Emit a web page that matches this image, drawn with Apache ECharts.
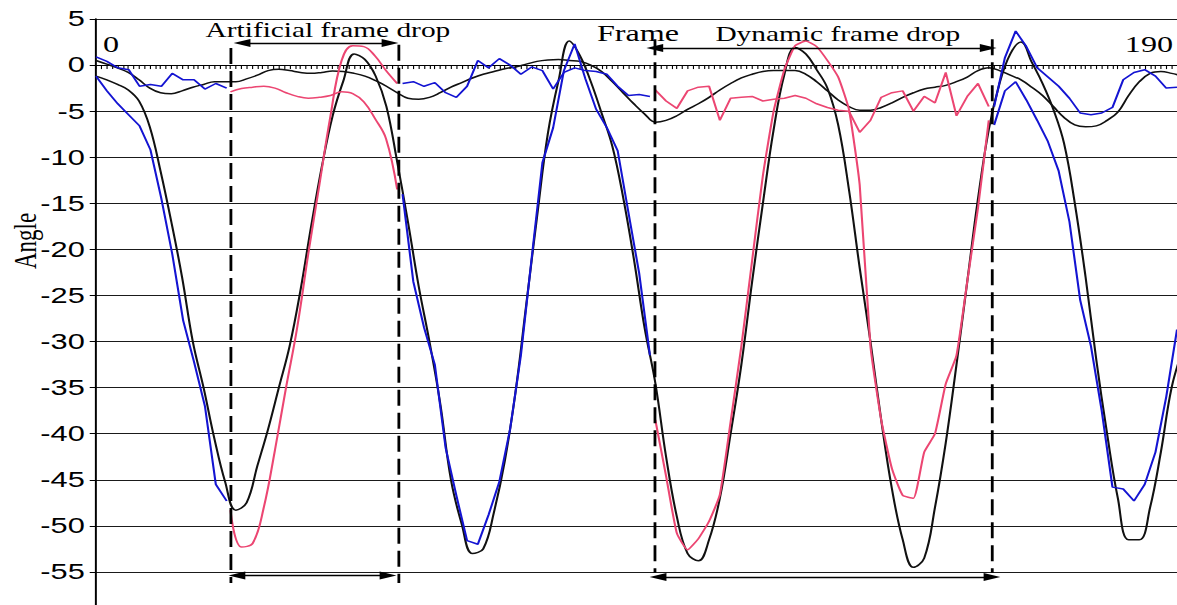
<!DOCTYPE html>
<html><head><meta charset="utf-8">
<script src="https://cdn.jsdelivr.net/npm/echarts@6/dist/echarts.min.js"></script>
<style>
html,body{margin:0;padding:0;background:#fff;overflow:hidden;}
#wrap{width:1177px;height:605px;overflow:hidden;}
#chart{width:841px;height:605px;transform:scaleX(1.39952);transform-origin:0 0;}
</style></head><body><div id="wrap"><div id="chart"></div></div>
<script>
// ---- data (angles in degrees, frames) ----
const xLabelValues = [0, 190];
const refRange = [0, 202];
const refSmall = [0.5,0.1,-0.3,-0.8,-1.6,-2.5,-3.0,-3.1,-2.8,-2.4,
 -2.1,-1.8,-1.8,-1.8,-1.5,-1.1,-0.6,-0.45,-0.6,-0.8,
 -0.9,-0.8,-0.65,-0.7,-0.9,-1.2,-1.7,-2.3,-3.0,-3.6,
 -3.7,-3.5,-3.0,-2.4,-1.9,-1.4,-1.0,-0.7,-0.4,-0.2,
 0.1,0.4,0.55,0.6,0.5,0.4,0.0,-0.7,-1.8,-3.0,
 -4.2,-5.3,-6.2,-6.0,-5.5,-4.8,-4.2,-3.5,-2.7,-2.0,
 -1.4,-1.0,-0.7,-0.6,-0.6,-0.6,-1.0,-1.8,-2.8,-3.8,
 -4.5,-4.9,-4.9,-4.6,-4.1,-3.5,-3.0,-2.6,-2.4,-2.2,
 -1.8,-1.3,-0.6,-0.3,-0.6,-1.1,-1.6,-2.4,-3.3,-4.5,
 -5.7,-6.5,-6.7,-6.6,-6.0,-5.1,-3.3,-1.8,-0.9,-0.7,
 -0.9,-1.2];
const refLarge = [-1.2,-1.6,-2.1,-2.7,-3.9,-6.7,-11.5,-17,-23,-30,
 -35,-40.5,-45.2,-48.3,-47.5,-43.5,-39.5,-35,-30.5,-24.5,
 -17.5,-11,-5.5,-1.7,1.2,0.6,-1.2,-4.5,-10.5,-17,
 -24,-30,-36.7,-45,-49.8,-53,-52.5,-48.5,-43,-35.5,
 -26,-16.5,-7.5,-1.7,2.6,1.0,-1.8,-5.2,-8.8,-14.3,
 -21,-28.5,-34.5,-42.5,-49,-53,-53.8,-51.5,-47,-40,
 -32.5,-23.5,-15,-7,-1,1.9,1.2,-0.5,-2.5,-6.5,
 -13.5,-22,-30,-38.5,-46,-51.5,-54.5,-53.5,-48,-41,
 -32.5,-23.5,-14.5,-7,-2,1.2,2.5,0.3,-2,-4.8,
 -8.5,-15,-23,-32,-40,-47,-51.5,-51.5,-48,-42,
 -35,-31];

const measuredRanges = [[0, 24.3], [57, 103], [167, 201]];
const measSmall1 = [0.9,0.4,-0.3,-0.5,-2.3,-2.1,-2.3,-0.9,-1.6,-1.6,-2.6,-2.0,-2.5];
const measLarge1 = [-1.2,-2.8,-4.2,-5.4,-6.6,-9.2,-14.5,-20.5,-27.7,-32.2,-37,-45.5,-47.3];
const measSmall2 = [-2.0,-1.8,-2.3,-1.9,-3.0,-3.5,-2.3,0.5,-0.3,0.7,0.0,-1.0,-0.2,-0.6,-2.6,-0.8,-0.3,-0.6,-0.7,-1.0,-2.3,-3.3,-3.2,-3.4];
const measLarge2 = [-14.0,-23.5,-28.5,-32.5,-41.5,-46.7,-51.6,-52.0,-48.8,-45.2,-39.5,-31.5,-21.0,-10.6,-6.8,-0.6,2.3,-1.5,-4.8,-6.8,-9.3,-16.0,-22.6,-31.5];
const measSmall3 = [-4.5,0.8,3.7,2.0,-0.3,-1.3,-2.3,-3.6,-5.2,-5.4,-5.2,-4.6,-1.6,-0.8,-0.5,-1.2,-2.5,-2.4];
const measLarge3 = [-6.5,-2.8,-1.8,-3.8,-6.0,-8.3,-11.5,-17.0,-25.5,-30.5,-37.5,-45.8,-46.0,-47.3,-45.5,-42.0,-36.0,-28.7];

const dropRanges = [[25, 56], [104, 166]];
const predSmall1 = [-2.9,-2.55,-2.4,-2.3,-2.5,-3.0,-3.4,-3.6,-3.5,-3.3,-2.9,-3.1,-4.0,-5.8,-8.0,-13.5];
const predLarge1 = [-48.3,-52.3,-51.9,-48,-41.8,-35,-28.5,-20.5,-13,-5.5,0.5,2.1,2.0,1.0,-0.6,-2.0];
const predSmall2 = [-2.7,-3.9,-4.7,-2.8,-2.4,-2.3,-6.0,-3.6,-3.5,-3.4,-3.9,-3.7,-3.6,-3.3,-3.6,-4.2,-4.6,-4.9,-5.0,-7.3,-6.0,-3.5,-3.0,-2.8,-5.0,-3.4,-4.1,-0.8,-5.5,-3.4,-2.0,-4.5];
const predLarge2 = [-38.5,-44.6,-50.8,-52.6,-51.4,-49.5,-46.6,-38.7,-30.5,-21.2,-12.0,-5.0,-0.5,2.1,2.6,2.0,0.5,-1.3,-4.8,-13.0,-30.5,-38.5,-43.8,-46.7,-47.0,-42.0,-40.0,-34.6,-31.5,-23.5,-15.5,-6.0];

// annotation positions (frame, angle)
const dropLineFrames = [24.9, 56.15, 103.94, 166.6];
const dropLineTops = [1.85, 2.2, 2.8, 2.8];
const dropLineBottoms = [-56.2, -56.2, -55.1, -55.1];
const arrowFrom = [27.15, 26.2, 103.9, 104.5];
const arrowTo = [54.67, 54.3, 165.9, 166.6];
const arrowAngle = [2.4, -55.4, 1.84, -55.55];

// ---- helpers ----
function toPoints(range, values) {
  const step = (range[1] - range[0]) / (values.length - 1);
  return values.map((v, i) => [range[0] + i * step, v]);
}
function joinSegments(ranges, segs) {
  let out = [];
  segs.forEach((s, i) => {
    if (i > 0) out.push([(ranges[i - 1][1] + ranges[i][0]) / 2, null]);
    out = out.concat(toPoints(ranges[i], s));
  });
  return out;
}

const BLACK = '#111111', BLUE = '#1414d2', PINK = '#ec4672';
const LW = 1.5;

function line(name, data, color, smooth, extra) {
  return Object.assign({
    name, type: 'line', data, showSymbol: false, symbol: 'none', smooth,
    connectNulls: false, lineStyle: { color, width: LW }, itemStyle: { color },
    animation: false, silent: true
  }, extra || {});
}

const dashedData = dropLineFrames.map((f, i) => [{ coord: [f, dropLineTops[i]] }, { coord: [f, dropLineBottoms[i]] }]);
const arrowData = arrowFrom.map((f, i) => [{ coord: [f, arrowAngle[i]] }, { coord: [arrowTo[i], arrowAngle[i]] }]);

const chart = echarts.init(document.getElementById('chart'), null, { renderer: 'svg' });
chart.setOption({
  animation: false,
  backgroundColor: '#fff',
  grid: { left: 68.6, right: 0, top: 19, bottom: -13, containLabel: false, outerBoundsMode: 'none' },
  xAxis: {
    type: 'value', position: 'top', min: 0, max: 201, interval: 1,
    axisLine: { show: true, onZero: true, lineStyle: { color: '#000', width: 1.2 } },
    axisTick: { show: true, inside: true, length: 4, lineStyle: { color: '#000', width: 0.8 } },
    axisLabel: {
      show: true, formatter: v => (xLabelValues.indexOf(v) >= 0 ? String(v) : ''),
      align: 'left', padding: [0, 0, 0, 5], margin: -37,
      fontFamily: '"Liberation Serif", serif', fontSize: 23, color: '#000'
    },
    splitLine: { show: false }
  },
  yAxis: {
    type: 'value', min: -60, max: 5, interval: 5,
    axisLine: { show: true, onZero: false, lineStyle: { color: '#000', width: 1.4 } },
    axisTick: { show: true, inside: false, length: 4.5, lineStyle: { color: '#000', width: 1 } },
    axisLabel: { formatter: v => (v < -55 ? '' : String(v)),
      fontFamily: '"Liberation Sans", Arial, sans-serif', fontSize: 22, color: '#000', margin: 8 },
    splitLine: { show: true, lineStyle: { color: '#1a1a1a', width: 1 } }
  },
  graphic: [
    { type: 'text', x: 18, y: 241, rotation: Math.PI / 2, silent: true,
      style: { text: 'Angle', font: '23px "Liberation Serif", serif', fill: '#000', textAlign: 'center', textVerticalAlign: 'middle' } },
    { type: 'text', x: 455.9, y: 33, silent: true,
      style: { text: 'Frame', font: '23px "Liberation Serif", serif', fill: '#000', textAlign: 'center', textVerticalAlign: 'middle' } },
    { type: 'text', x: 234.3, y: 30, silent: true,
      style: { text: 'Artificial frame drop', font: '21px "Liberation Serif", serif', fill: '#000', textAlign: 'center', textVerticalAlign: 'middle' } },
    { type: 'text', x: 598.6, y: 34, silent: true,
      style: { text: 'Dynamic frame drop', font: '21px "Liberation Serif", serif', fill: '#000', textAlign: 'center', textVerticalAlign: 'middle' } }
  ],
  series: [
    line('Reference small', toPoints(refRange, refSmall), BLACK, 0.4, {
      markLine: { silent: true, animation: false, symbol: ['none', 'none'], label: { show: false },
        lineStyle: { color: '#000', type: [16, 7], width: 2 }, data: dashedData }
    }),
    line('Reference large', toPoints(refRange, refLarge), BLACK, 0.4, {
      markLine: { silent: true, animation: false, symbol: ['triangle', 'triangle'], symbolSize: [8, 12],
        label: { show: false }, lineStyle: { color: '#000', type: 'solid', width: 1.3 }, itemStyle: { color: '#000' },
        data: arrowData }
    }),
    line('Measured small', joinSegments(measuredRanges, [measSmall1, measSmall2, measSmall3]), BLUE, false),
    line('Measured large', joinSegments(measuredRanges, [measLarge1, measLarge2, measLarge3]), BLUE, false),
    line('Predicted small A', toPoints(dropRanges[0], predSmall1), PINK, 0.4),
    line('Predicted small B', toPoints(dropRanges[1], predSmall2), PINK, false),
    line('Predicted large A', toPoints(dropRanges[0], predLarge1), PINK, 0.4),
    line('Predicted large B', toPoints(dropRanges[1], predLarge2), PINK, 0.15)
  ]
});
</script></body></html>
